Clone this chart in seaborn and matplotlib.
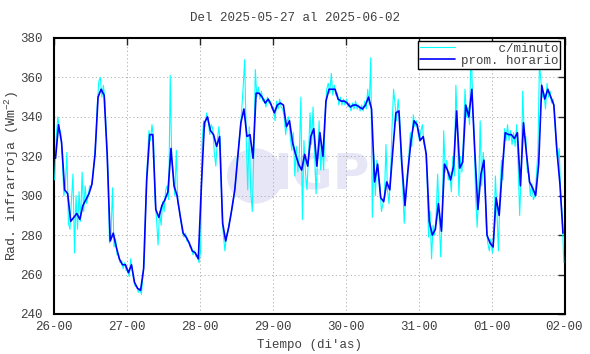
import numpy as np
import pandas as pd
import matplotlib
matplotlib.use("Agg")
import matplotlib.pyplot as plt
from matplotlib.patches import Ellipse
import seaborn as sns

# ---- data ----
day_labels = ["26-00", "27-00", "28-00", "29-00", "30-00", "31-00", "01-00", "02-00"]
y_ticks = [240, 260, 280, 300, 320, 340, 360, 380]

# hourly averages (prom. horario), 24 values per day
hourly_26 = [319, 336, 327, 303, 301, 287, 289, 291, 288, 295, 298, 301, 306, 321, 350, 354, 351, 321, 277, 281, 274, 268, 265, 265]
hourly_27 = [261, 265, 256, 253, 252, 263, 308, 331, 331, 293, 289, 295, 298, 302, 324, 305, 300, 290, 281, 279, 276, 272, 271, 268]
hourly_28 = [305, 337, 340, 333, 331, 325, 330, 286, 277, 284, 293, 303, 320, 337, 344, 330, 331, 319, 352, 352, 350, 347, 349, 346]
hourly_29 = [342, 346, 347, 346, 335, 338, 327, 321, 316, 313, 321, 315, 330, 334, 315, 332, 320, 348, 354, 354, 354, 349, 348, 348]
hourly_30 = [347, 345, 346, 346, 345, 344, 346, 350, 344, 307, 316, 299, 297, 307, 303, 323, 342, 343, 316, 295, 313, 328, 338, 336]
hourly_31 = [328, 330, 321, 287, 280, 283, 296, 282, 316, 313, 308, 315, 343, 314, 317, 346, 340, 354, 322, 293, 311, 318, 280, 276]
hourly_01 = [274, 299, 290, 313, 332, 331, 331, 329, 332, 305, 337, 321, 307, 304, 300, 316, 356, 349, 354, 350, 346, 323, 306, 281]

# per-minute series (c/minuto), sampled twice per hour, 48 values per day
minute_26 = [308, 330, 340, 334, 332, 318, 300, 306, 322, 286, 283, 298, 311, 271, 300, 283,
             302, 287, 312, 292, 305, 296, 300, 305, 304, 310, 318, 328, 346, 358, 360, 350,
             356, 348, 330, 312, 276, 280, 304, 274, 278, 270, 270, 266, 267, 263, 266, 262]
minute_27 = [262, 259, 268, 262, 257, 254, 254, 251, 253, 250, 259, 268, 300, 318, 333, 328,
             336, 329, 298, 288, 275, 292, 285, 297, 292, 303, 305, 298, 361, 318, 312, 300,
             323, 296, 293, 287, 282, 279, 281, 277, 277, 274, 274, 270, 272, 269, 269, 266]
minute_28 = [272, 328, 338, 335, 342, 338, 331, 336, 334, 322, 315, 328, 335, 326, 292, 280,
             272, 280, 282, 287, 290, 296, 300, 307, 318, 325, 333, 343, 355, 369, 330, 303,
             335, 302, 292, 322, 364, 350, 355, 349, 353, 348, 349, 345, 350, 347, 348, 344]
minute_29 = [345, 338, 348, 344, 349, 345, 344, 340, 331, 338, 340, 330, 323, 332, 310, 325,
             312, 322, 350, 288, 328, 312, 303, 320, 342, 326, 345, 322, 301, 320, 338, 313,
             325, 313, 342, 354, 357, 352, 362, 351, 356, 351, 352, 346, 350, 346, 349, 346]
minute_30 = [349, 345, 347, 343, 347, 344, 348, 344, 346, 343, 346, 343, 348, 344, 354, 346,
             370, 289, 321, 300, 318, 310, 305, 292, 296, 300, 326, 303, 296, 310, 335, 354,
             346, 338, 349, 340, 318, 305, 286, 300, 310, 320, 332, 325, 341, 335, 338, 332]
minute_31 = [328, 333, 336, 326, 324, 312, 279, 292, 268, 285, 280, 290, 311, 290, 269, 290,
             333, 312, 318, 308, 312, 302, 320, 310, 356, 336, 300, 320, 312, 330, 354, 340,
             345, 336, 377, 350, 330, 300, 284, 300, 338, 305, 322, 312, 284, 276, 272, 278]
minute_01 = [271, 278, 310, 293, 272, 300, 318, 308, 334, 328, 336, 328, 333, 326, 332, 325,
             336, 315, 290, 312, 353, 330, 330, 312, 311, 300, 306, 298, 300, 310, 322, 367,
             358, 350, 352, 344, 357, 350, 353, 347, 349, 340, 326, 318, 324, 300, 290, 266]

hourly = hourly_26 + hourly_27 + hourly_28 + hourly_29 + hourly_30 + hourly_31 + hourly_01
minute = minute_26 + minute_27 + minute_28 + minute_29 + minute_30 + minute_31 + minute_01

df_h = pd.DataFrame({"t": np.arange(len(hourly)) + 0.5, "v": hourly})
df_m = pd.DataFrame({"t": np.arange(len(minute)) * 0.5 + 0.25, "v": minute})

# ---- style ----
sns.set_style("white")
plt.rcParams["font.family"] = ["Liberation Mono", "DejaVu Sans Mono"]
plt.rcParams["mathtext.default"] = "regular"
txt_col = "#404040"

fig = plt.figure(figsize=(5.9, 3.54), dpi=100)
ax = fig.add_axes([54 / 590, 1 - 314 / 354, 510.5 / 590, 276 / 354])

# watermark (IGP logo, faint)
ax.add_patch(Ellipse((0.394, 0.50), 0.11, 0.20, transform=ax.transAxes,
                     facecolor="#E6E6F7", edgecolor="none", zorder=0.2))
ax.text(0.525, 0.50, "IGP", transform=ax.transAxes, ha="center", va="center",
        fontsize=36, fontweight="bold", family="DejaVu Sans", color="#E6E6F7", zorder=0.2)

sns.lineplot(data=df_m, x="t", y="v", color="#00FFFF", lw=0.8, ax=ax,
             label="     c/minuto", zorder=3)
sns.lineplot(data=df_h, x="t", y="v", color="#0000FF", lw=1.2, ax=ax,
             label="prom. horario", zorder=4)

ax.set_xlim(0, 168)
ax.set_ylim(240, 380)
ax.set_xticks(np.arange(0, 169, 24))
ax.set_xticklabels(day_labels)
ax.set_yticks(y_ticks)
ax.grid(True, color="#a8a8a8", ls=(0, (1.5, 3)), lw=0.6)
ax.tick_params(direction="in", top=True, right=True, length=5, width=1,
               labelsize=9, labelcolor=txt_col)
ax.tick_params(axis="y", pad=8)
ax.tick_params(axis="x", pad=5)
for s in ax.spines.values():
    s.set_linewidth(1.5)
    s.set_color("black")

ax.set_xlabel("Tiempo (di'as)", fontsize=9, color=txt_col)
ax.set_ylabel("Rad. infrarroja (Wm$^{-2}$)", fontsize=9.5, color=txt_col)
ax.xaxis.set_label_coords(0.5, -0.09)
ax.yaxis.set_label_coords(-0.064, 0.5)

fig.text(0.5, 1 - 18 / 354, "Del 2025-05-27 al 2025-06-02", ha="center", va="center",
         fontsize=9, color=txt_col)

leg = ax.legend(loc="upper right", bbox_to_anchor=(0.992, 0.99), borderaxespad=0,
                fontsize=9, frameon=True, fancybox=False, framealpha=1,
                edgecolor="black", handlelength=2.8, handletextpad=0.5,
                labelspacing=0.0, borderpad=0.15)
leg.get_frame().set_linewidth(1.0)
for t in leg.get_texts():
    t.set_color(txt_col)

fig.savefig("out.png", dpi=100)
